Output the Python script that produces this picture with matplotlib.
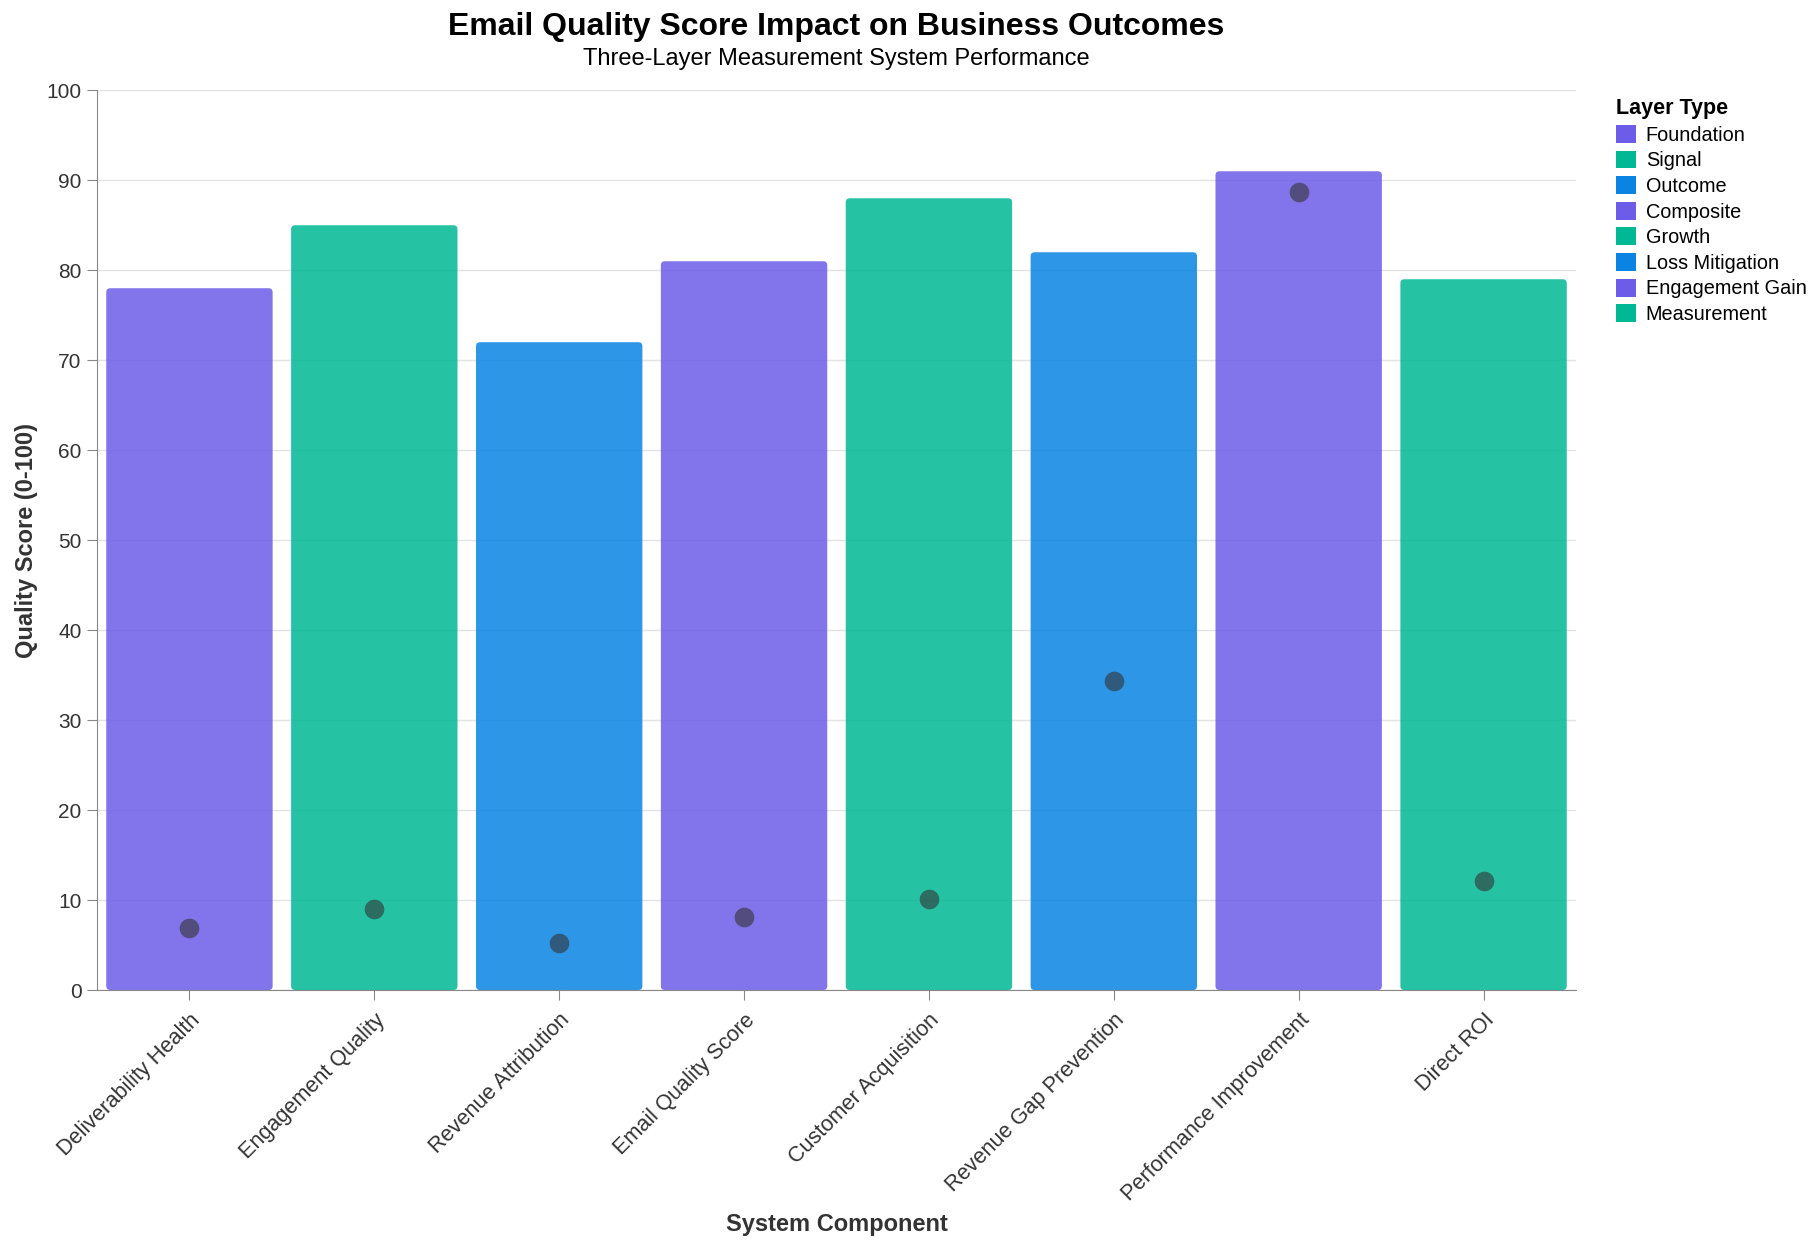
import matplotlib
matplotlib.use("Agg")
import matplotlib.pyplot as plt
from matplotlib.patches import Patch, FancyBboxPatch

plt.rcParams['font.family'] = ['Liberation Sans', 'DejaVu Sans']

# data
components = ["Deliverability Health", "Engagement Quality", "Revenue Attribution",
              "Email Quality Score", "Customer Acquisition", "Revenue Gap Prevention",
              "Performance Improvement", "Direct ROI"]
layers = ["Foundation", "Signal", "Outcome", "Composite", "Growth",
          "Loss Mitigation", "Engagement Gain", "Measurement"]
scores = [78, 85, 72, 81, 88, 82, 91, 79]
impact = [6.9, 9.0, 5.2, 8.1, 10.1, 34.4, 88.7, 12.1]

layer_colors = ["#6c5ce7", "#00b894", "#0984e3", "#6c5ce7",
                "#00b894", "#0984e3", "#6c5ce7", "#00b894"]

W, H = 1816, 1244
ax_left, ax_right, ax_top, ax_bot = 97, 1576, 90.3, 990

fig = plt.figure(figsize=(W / 100, H / 100), dpi=100)
ax = fig.add_axes([ax_left / W, 1 - ax_bot / H, (ax_right - ax_left) / W, (ax_bot - ax_top) / H])

x = list(range(len(components)))
ax.set_xlim(-0.5, len(components) - 0.5)
ax.set_ylim(0, 100)

# bars with rounded corners (4 px radius)
bars = ax.bar(x, scores, width=0.9, color=layer_colors, alpha=0.85, zorder=2)
px_x = (ax_right - ax_left) / len(components)
px_y = (ax_bot - ax_top) / 100
rx = 4 / px_x
for b in bars:
    b.set_visible(False)
    ax.add_patch(FancyBboxPatch((b.get_x(), b.get_y()), b.get_width(), b.get_height(),
                                boxstyle=f"round,pad=0,rounding_size={rx}",
                                mutation_aspect=px_x / px_y,
                                facecolor=b.get_facecolor(), edgecolor='none', zorder=2))

ax.scatter(x, impact, s=200, color="#333333", alpha=0.6, zorder=3, linewidths=0)

ax.set_yticks(range(0, 101, 10))
ax.set_xticks(x)
ax.set_xticklabels(components, rotation=45, ha='right', rotation_mode='anchor',
                   fontsize=15.6, color="#333333")
ax.tick_params(axis='y', labelsize=15, labelcolor="#333333", color="#888888", length=7, pad=4)
ax.tick_params(axis='x', color="#888888", length=7, pad=7)

ax.grid(axis='y', color="#e3e3e3", linewidth=1, zorder=0)
ax.set_axisbelow(True)
for s in ['top', 'right']:
    ax.spines[s].set_visible(False)
for s in ['left', 'bottom']:
    ax.spines[s].set_color("#888888")

ax.set_ylabel("Quality Score (0-100)", fontsize=17, fontweight='bold', color="#333333")
ax.set_xlabel("System Component", fontsize=17, fontweight='bold', color="#333333")
ax.yaxis.set_label_coords(-0.0396, 0.5)
ax.xaxis.set_label_coords(0.5, -0.248)

fig.text(836 / W, 1 - 27 / H, "Email Quality Score Impact on Business Outcomes",
         ha='center', va='center', fontsize=23, fontweight='bold', color="#000000")
fig.text(836 / W, 1 - 59 / H, "Three-Layer Measurement System Performance",
         ha='center', va='center', fontsize=17, color="#000000")

handles = [Patch(facecolor=c, edgecolor='none') for c in layer_colors]
leg = fig.legend(handles, layers, title="Layer Type", loc='upper left',
                 bbox_to_anchor=(1608 / W, 1 - 90 / H), frameon=False,
                 fontsize=14.3, title_fontsize=15.5, handlelength=1.0, handleheight=1.0,
                 labelspacing=0.3, handletextpad=0.5, borderaxespad=0)
leg.get_title().set_fontweight('bold')
leg._legend_box.align = "left"

fig.savefig("out.png", dpi=100)
